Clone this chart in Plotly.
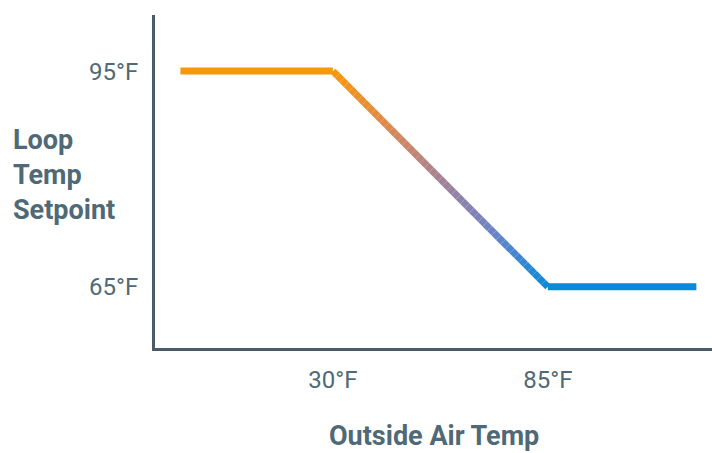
import plotly.graph_objects as go

# Data
outside_temp = [-9, 30, 85, 123]      # °F (x positions of the setpoint curve)
loop_setpoint = [95, 95, 65, 65]      # °F
x_tick_vals = [30, 85]
x_tick_text = ["30°F", "85°F"]
y_tick_vals = [65, 95]
y_tick_text = ["65°F", "95°F"]

ORANGE = "#F7980C"
BLUE = "#0A89D6"
TEXT = "#4F6976"
AXIS = "#4B5B67"
LW = 7

# colour stops for the ramp gradient (orange -> mauve -> blue)
GRAD = [(0.0, (247, 152, 12)), (0.25, (222, 137, 78)), (0.5, (165, 130, 150)),
        (0.75, (105, 132, 200)), (1.0, (10, 137, 214))]

def grad_color(t):
    for (ta, ca), (tb, cb) in zip(GRAD[:-1], GRAD[1:]):
        if t <= tb:
            u = (t - ta) / (tb - ta)
            return "rgb(%d,%d,%d)" % tuple(round(ca[k] + (cb[k] - ca[k]) * u) for k in range(3))
    return "rgb(%d,%d,%d)" % GRAD[-1][1]

fig = go.Figure()

# flat warm segment
fig.add_trace(go.Scatter(x=outside_temp[0:2], y=loop_setpoint[0:2], mode="lines",
                         line=dict(color=ORANGE, width=LW), hoverinfo="skip"))
# flat cool segment
fig.add_trace(go.Scatter(x=outside_temp[2:4], y=loop_setpoint[2:4], mode="lines",
                         line=dict(color=BLUE, width=LW), hoverinfo="skip"))
# reset ramp drawn with a colour gradient (render-only subdivision of one segment)
N = 48
x0, x1 = outside_temp[1], outside_temp[2]
y0, y1 = loop_setpoint[1], loop_setpoint[2]
for k in range(N):
    t0, t1 = k / N, (k + 1) / N
    fig.add_trace(go.Scatter(
        x=[x0 + (x1 - x0) * t0, x0 + (x1 - x0) * t1],
        y=[y0 + (y1 - y0) * t0, y0 + (y1 - y0) * t1],
        mode="lines", line=dict(color=grad_color((t0 + t1) / 2), width=LW),
        hoverinfo="skip"))

fig.update_layout(
    width=712, height=453,
    margin=dict(l=155, r=0, t=15, b=105),
    paper_bgcolor="white", plot_bgcolor="white",
    showlegend=False,
    font=dict(family="Roboto", color=TEXT),
    xaxis=dict(range=[-15.5, 127], showgrid=False, zeroline=False,
               showline=True, linecolor=AXIS, linewidth=3,
               tickvals=x_tick_vals, ticktext=x_tick_text,
               ticks="outside", ticklen=8, tickcolor="rgba(0,0,0,0)",
               tickfont=dict(size=24, color=TEXT)),
    yaxis=dict(range=[56.5, 102.8], showgrid=False, zeroline=False,
               showline=True, linecolor=AXIS, linewidth=3,
               tickvals=y_tick_vals, ticktext=y_tick_text,
               ticks="outside", ticklen=9, tickcolor="rgba(0,0,0,0)",
               tickfont=dict(size=24, color=TEXT)),
    annotations=[
        dict(text="<b>Outside Air Temp</b>", xref="paper", yref="paper",
             x=0.5, y=0, yshift=-88, xanchor="center", yanchor="middle",
             showarrow=False, font=dict(size=27, color=TEXT)),
        dict(text="<b>Loop<br>Temp<br>Setpoint</b>", xref="paper", yref="paper",
             x=0, xshift=-144, y=0.52, xanchor="left", yanchor="middle",
             align="left", showarrow=False, font=dict(size=27, color=TEXT)),
    ],
)

fig.write_html("out.html", config={"displayModeBar": False},
               post_script="document.body.style.margin='0';")
